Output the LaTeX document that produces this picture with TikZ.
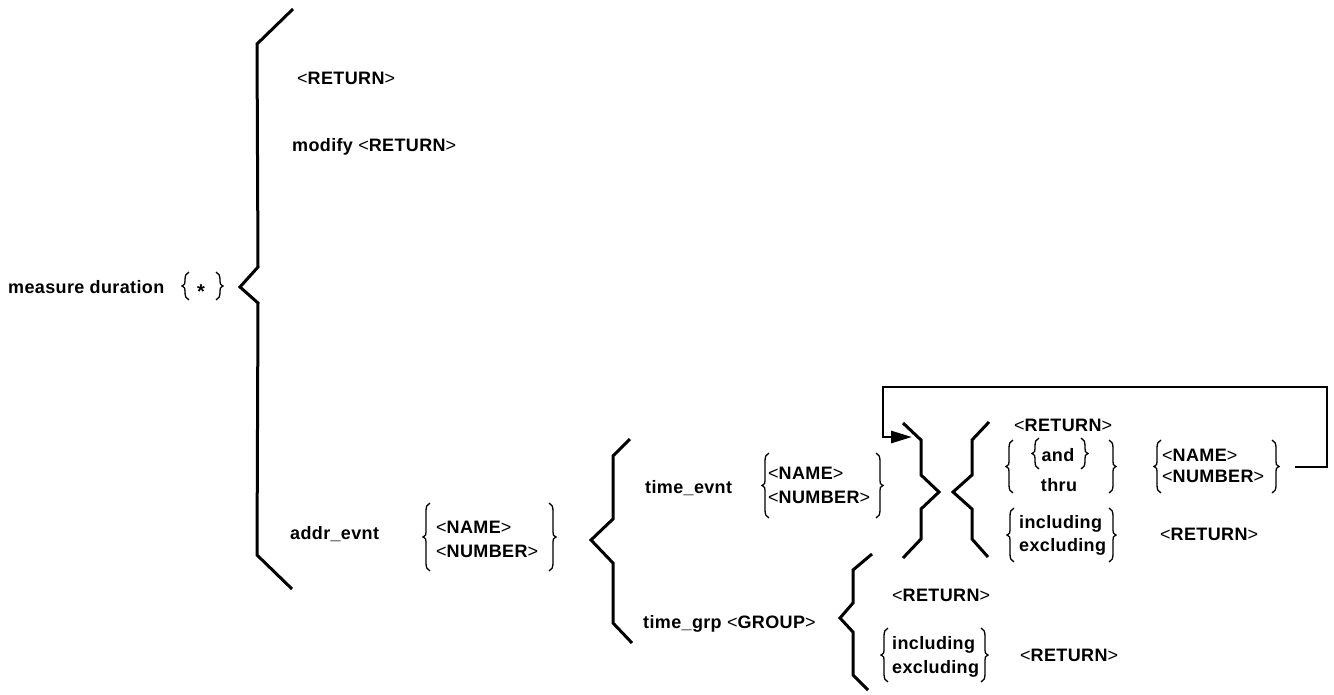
\documentclass[tikz,border=0pt]{standalone}
\usepackage{fontspec}
\setmainfont{Liberation Sans}[LetterSpace=2]
\usetikzlibrary{arrows.meta}

\tikzset{
  lbl/.style={anchor=base west, inner sep=0pt, font=\fontsize{18}{20}\selectfont\bfseries},
  zig/.style={line width=3pt, line join=miter, line cap=butt},
  thinbrace/.style={line width=1.3pt},
  loopline/.style={line width=2.8pt, line join=miter, -{Triangle[length=21pt,width=12pt]}},
}
% <NAME> style token: thin angle brackets around a bold word
\newcommand\ang[1]{{\mdseries<}#1{\mdseries>}}

% thin curly braces: stem x, top y, bottom y
\newcommand\openbrace[3]{%
  \draw[thinbrace] ({#1+4},{#2}) .. controls ({#1+1},{#2+1}) and ({#1},{#2+4}) .. ({#1},{#2+8})
    -- ({#1},{(#2+#3)/2-5}) .. controls ({#1},{(#2+#3)/2-2}) .. ({#1-3},{(#2+#3)/2})
    .. controls ({#1},{(#2+#3)/2+2}) .. ({#1},{(#2+#3)/2+5})
    -- ({#1},{#3-8}) .. controls ({#1},{#3-4}) and ({#1+1},{#3-1}) .. ({#1+4},{#3});}
\newcommand\closebrace[3]{%
  \draw[thinbrace] ({#1-4},{#2}) .. controls ({#1-1},{#2+1}) and ({#1},{#2+4}) .. ({#1},{#2+8})
    -- ({#1},{(#2+#3)/2-5}) .. controls ({#1},{(#2+#3)/2-2}) .. ({#1+3},{(#2+#3)/2})
    .. controls ({#1},{(#2+#3)/2+2}) .. ({#1},{(#2+#3)/2+5})
    -- ({#1},{#3-8}) .. controls ({#1},{#3-4}) and ({#1-1},{#3-1}) .. ({#1-4},{#3});}

\begin{document}
\begin{tikzpicture}[x=1pt,y=-1pt]
\useasboundingbox (0,0) rectangle (1334,694);

% ---- command head
\node[lbl] (md) at (8,293) {measure duration};
\node[anchor=base, inner sep=0pt, font=\fontsize{20}{22}\selectfont\bfseries] (star) at (201,298) {*};
\openbrace{185}{272}{300}
\closebrace{220}{272}{300}

% ---- first level choice
\draw[zig] (293,9) -- (257,44) -- (258,267) -- (240,287) -- (258,303) -- (257,555) -- (292,589);
\node[lbl] (ret1) at (297,84) {\ang{RETURN}};
\node[lbl] (modify) at (292,151) {modify \ang{RETURN}};
\node[lbl] (addr) at (290,539) {addr\_evnt};
\node[lbl] (addrname) at (436,533) {\ang{NAME}};
\node[lbl] (addrnum) at (436,557) {\ang{NUMBER}};
\openbrace{426}{503}{571}
\closebrace{553}{503}{571}

% ---- time_evnt / time_grp
\draw[zig] (630,439) -- (613,456) -- (613,519) -- (591,540) -- (613,563) -- (613,623) -- (632,643);
\node[lbl] (tevnt) at (645,493) {time\_evnt};
\node[lbl] (tename) at (768,479) {\ang{NAME}};
\node[lbl] (tenum) at (768,503) {\ang{NUMBER}};
\openbrace{765}{453}{518}
\closebrace{880}{453}{518}

\node[lbl] (tgrp) at (643,628) {time\_grp \ang{GROUP}};
\draw[zig] (872,554) -- (853,570) -- (853,603) -- (840,618) -- (853,632) -- (853,675) -- (868,690);
\node[lbl] (ret4) at (892,601) {\ang{RETURN}};
\node[lbl] (inc2) at (892,649) {including};
\node[lbl] (exc2) at (892,673) {excluding};
\openbrace{884}{628}{682}
\closebrace{985}{628}{682}
\node[lbl] (ret5) at (1020,661) {\ang{RETURN}};

% ---- repeated clause after time_evnt
\draw[zig] (903,423) -- (921,440) -- (921,475) -- (939,492) -- (921,509) -- (921,539) -- (903,558);
\draw[zig] (989,422) -- (972,440) -- (972,475) -- (953,492) -- (972,509) -- (972,539) -- (988,557);

\node[lbl] (ret2) at (1014,431) {\ang{RETURN}};
\node[lbl, anchor=base] (and) at (1058,461) {and};
\node[lbl, anchor=base] (thru) at (1059,491) {thru};
\openbrace{1035}{438}{469}
\closebrace{1085}{438}{469}
\openbrace{1009}{440}{493}
\closebrace{1113}{440}{493}
\node[lbl] (rname) at (1162,461) {\ang{NAME}};
\node[lbl] (rnum) at (1162,482) {\ang{NUMBER}};
\openbrace{1157}{440}{493}
\closebrace{1276}{440}{493}

\node[lbl] (inc1) at (1019,528) {including};
\node[lbl] (exc1) at (1019,551) {excluding};
\openbrace{1010}{508}{562}
\closebrace{1113}{508}{562}
\node[lbl] (ret3) at (1160,540) {\ang{RETURN}};

% ---- loop back to the start of the repeated clause
\coordinate (loopstart) at (1295,467);
\coordinate (loopR) at (1327,387);
\coordinate (loopL) at (883,387);
\coordinate (loopend) at (912,437);
\draw[loopline] (loopstart) -| (loopR) -- (loopL) |- (loopend);
\end{tikzpicture}
\end{document}
